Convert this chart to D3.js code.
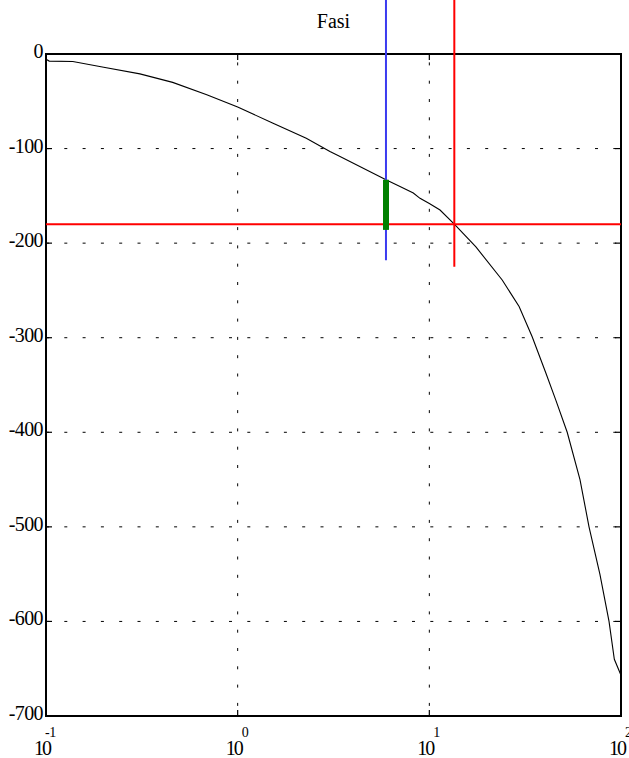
<!DOCTYPE html>
<html>
<head>
<meta charset="utf-8">
<script src="https://cdn.jsdelivr.net/npm/d3@7"></script>
<style>
  html, body { margin: 0; padding: 0; background: #fff; }
  svg { display: block; }
  svg text { font-family: "Liberation Serif", "DejaVu Serif", serif; }
</style>
</head>
<body>
<svg id="chart" width="629" height="758"></svg>
<script>
// ---- data ----
const title = "Fasi";
const freq  = [0.1, 0.104, 0.138, 0.2, 0.309, 0.458, 0.69, 1.0, 1.52, 2.28, 3.03, 3.4, 5.94, 7.03, 8.25, 8.94, 10.0, 11.37, 13.5, 17.5, 24.0, 29.4, 34.4, 40.5, 45.7, 52.4, 61.1, 68.1, 77.6, 86.6, 92.3, 100];
const phase = [-5.6, -7.5, -8, -14, -21, -30, -43, -56, -73, -89, -103, -108, -133, -140, -147, -152.6, -158, -165, -180, -204, -239, -267, -299, -337, -366, -400, -450, -500, -550, -600, -640, -657];
const yTicks = [0, -100, -200, -300, -400, -500, -600, -700];
const xTickExp = [-1, 0, 1, 2];
const xDomain = [0.1, 100];
const yDomain = [-700, 0];
// crossover markers
const wGain = 5.94;             // gain crossover (blue)
const wPhase = 13.5;            // phase crossover (red)
const blueSpan = [57, -218];
const redVSpan = [57, -225];
const redHLevel = -180;
const marginSpan = [-133, -186]; // green phase margin bar

// ---- layout ----
const L = 46, T = 54, R = 621, B = 716;
const svg = d3.select("#chart");
const x = d3.scaleLog().domain(xDomain).range([L, R]);
const y = d3.scaleLinear().domain(yDomain).range([B, T]);

// grid
const period = 18.3;
svg.append("g").selectAll("line").data(yTicks.filter(v => v > -700 && v < 0)).join("line")
  .attr("x1", L).attr("x2", R).attr("y1", d => y(d)).attr("y2", d => y(d))
  .attr("stroke", "#000").attr("stroke-width", 1)
  .attr("stroke-dasharray", "3," + (period - 3));
svg.append("g").selectAll("line").data(xTickExp.filter(e => e > -1 && e < 2)).join("line")
  .attr("x1", d => x(Math.pow(10, d))).attr("x2", d => x(Math.pow(10, d)))
  .attr("y1", T).attr("y2", B)
  .attr("stroke", "#000").attr("stroke-width", 1)
  .attr("stroke-dasharray", "3," + (period - 3))
  .attr("stroke-dashoffset", 9.9);

// curve
const line = d3.line().x((d, i) => x(freq[i])).y(d => y(d));
svg.append("path").datum(phase).attr("d", line)
  .attr("fill", "none").attr("stroke", "#000").attr("stroke-width", 1.1);

// axes box
svg.append("rect").attr("x", L).attr("y", T).attr("width", R - L).attr("height", B - T)
  .attr("fill", "none").attr("stroke", "#000").attr("stroke-width", 2);

// ticks (inward, all four sides)
const tl = 6;
const tg = svg.append("g").attr("stroke", "#000").attr("stroke-width", 1.2);
yTicks.forEach(v => {
  tg.append("line").attr("x1", L).attr("x2", L + tl).attr("y1", y(v)).attr("y2", y(v));
  tg.append("line").attr("x1", R).attr("x2", R - tl).attr("y1", y(v)).attr("y2", y(v));
});
xTickExp.forEach(e => {
  const xv = x(Math.pow(10, e));
  tg.append("line").attr("x1", xv).attr("x2", xv).attr("y1", B).attr("y2", B - tl);
  tg.append("line").attr("x1", xv).attr("x2", xv).attr("y1", T).attr("y2", T + tl);
});

// y labels
svg.append("g").selectAll("text").data(yTicks).join("text")
  .attr("x", L - 3).attr("y", d => y(d) + 4)
  .attr("text-anchor", "end").attr("font-size", 20)
  .attr("letter-spacing", "-0.6")
  .text(d => d);

// x labels (10^n) as one text with a superscript tspan
const xl = svg.append("g");
xTickExp.forEach(e => {
  const xv = x(Math.pow(10, e));
  const t = xl.append("text").attr("x", xv - 12).attr("y", 755)
    .attr("font-size", 20);
  t.append("tspan").attr("letter-spacing", "-2").text("10");
  t.append("tspan").attr("font-size", 14).attr("dy", -18)
    .attr("dx", e < 0 ? -5 : 0).attr("letter-spacing", "-0.5").text(e);
});

// title
svg.append("text")
  .attr("x", (L + R) / 2).attr("y", 28)
  .attr("text-anchor", "middle").attr("font-size", 20).text(title);

// crossover lines
svg.append("line").attr("x1", x(wGain)).attr("x2", x(wGain))
  .attr("y1", y(blueSpan[0])).attr("y2", y(blueSpan[1]))
  .attr("stroke", "#3b3bf0").attr("stroke-width", 2);
svg.append("line").attr("x1", x(wPhase)).attr("x2", x(wPhase))
  .attr("y1", y(redVSpan[0])).attr("y2", y(redVSpan[1]))
  .attr("stroke", "#ff0000").attr("stroke-width", 2);
svg.append("line").attr("x1", x(xDomain[0])).attr("x2", x(xDomain[1]))
  .attr("y1", y(redHLevel)).attr("y2", y(redHLevel))
  .attr("stroke", "#ff0000").attr("stroke-width", 2);
svg.append("line").attr("x1", x(wGain)).attr("x2", x(wGain))
  .attr("y1", y(marginSpan[0])).attr("y2", y(marginSpan[1]))
  .attr("stroke", "#008000").attr("stroke-width", 6);
</script>
</body>
</html>
